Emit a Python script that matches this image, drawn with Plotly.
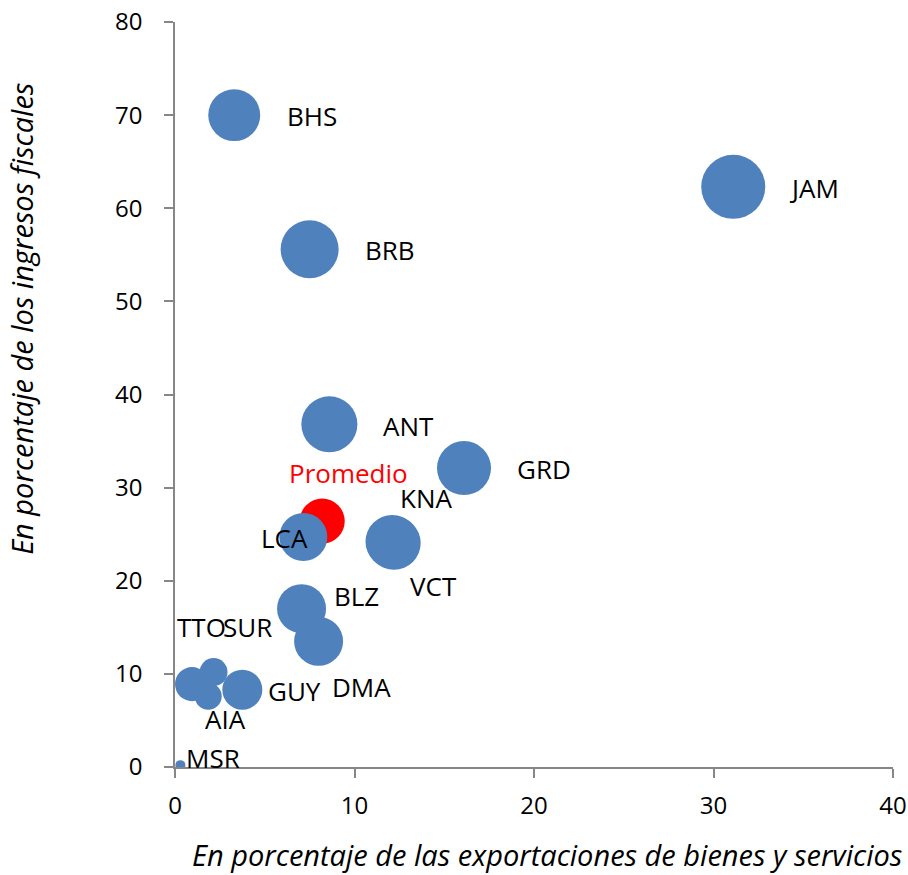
import plotly.graph_objects as go

# ---- data ----
countries = ["BHS", "JAM", "BRB", "ANT", "GRD", "KNA", "VCT", "LCA", "BLZ", "DMA",
             "TTO", "SUR", "AIA", "GUY", "MSR"]
exports_pct = [3.3, 31.1, 7.5, 8.6, 16.1, 12.1, 12.2, 7.15, 7.05, 8.0,
               0.95, 2.15, 1.85, 3.75, 0.3]
revenue_pct = [70.0, 62.3, 55.6, 36.8, 32.1, 24.2, 24.05, 24.7, 17.0, 13.5,
               8.9, 10.2, 7.6, 8.3, 0.2]
bubble_val = [27.0, 41.0, 33.6, 31.4, 29.2, 28.5, 28.5, 23.0, 24.0, 24.0,
              11.6, 7.8, 7.3, 16.0, 1.0]

avg_label = ["Promedio"]
avg_exports = [8.2]
avg_revenue = [26.4]
avg_bubble = [20.3]

x_ticks = [0, 10, 20, 30, 40]
y_ticks = [0, 10, 20, 30, 40, 50, 60, 70, 80]

# ---- label offsets (pixels: dx from bubble centre to label's left edge, dy upward) ----
label_offsets = {
    "BHS": (51, -1), "JAM": (54, -1), "BRB": (53, -1), "ANT": (52, -2),
    "GRD": (51, -1), "KNA": (6, 44), "VCT": (14, -43), "LCA": (-44, -1),
    "BLZ": (30, 13), "DMA": (11, -46), "TTO": (-17, 57), "SUR": (7, 45),
    "AIA": (-5, -23), "GUY": (24, -1), "MSR": (4, 7),
}
avg_offset = (-35, 48)

FONT = "Open Sans"
BLUE = "#4F81BD"
AXIS = "#868686"
SREF = 0.02
LABEL_SIZE = 26
TICK_SIZE = 24
TITLE_SIZE = 29

fig = go.Figure()
fig.add_trace(go.Scatter(
    x=avg_exports, y=avg_revenue, mode="markers",
    marker=dict(size=avg_bubble, sizemode="area", sizeref=SREF, color="#FF0000",
                line=dict(width=0), opacity=1),
    hoverinfo="text", text=avg_label, showlegend=False))
fig.add_trace(go.Scatter(
    x=exports_pct, y=revenue_pct, mode="markers",
    marker=dict(size=bubble_val, sizemode="area", sizeref=SREF, color=BLUE,
                line=dict(width=0), opacity=1),
    hoverinfo="text", text=countries, showlegend=False))

for c, xv, yv in zip(countries, exports_pct, revenue_pct):
    dx, dy = label_offsets[c]
    fig.add_annotation(x=xv, y=yv, text=c, showarrow=False, xanchor="left",
                       yanchor="middle", xshift=dx, yshift=dy,
                       font=dict(family=FONT, size=LABEL_SIZE, color="black"))
fig.add_annotation(x=avg_exports[0], y=avg_revenue[0], text=avg_label[0],
                   showarrow=False, xanchor="left", yanchor="middle",
                   xshift=avg_offset[0], yshift=avg_offset[1],
                   font=dict(family=FONT, size=LABEL_SIZE, color="#FF0000"))

# axis titles
fig.add_annotation(xref="paper", yref="paper", x=1.0153, y=-0.1168,
                   xanchor="right", yanchor="middle", showarrow=False,
                   text="<i>En porcentaje de las exportaciones de bienes y servicios</i>",
                   font=dict(family=FONT, size=TITLE_SIZE, color="black"))
fig.add_annotation(xref="paper", yref="paper", x=-0.214, y=0.602,
                   xanchor="center", yanchor="middle", showarrow=False, textangle=-90,
                   text="<i>En porcentaje de los ingresos fiscales</i>",
                   font=dict(family=FONT, size=TITLE_SIZE, color="black"))

fig.update_layout(
    width=908, height=875,
    margin=dict(l=175, r=15, t=22, b=108),
    paper_bgcolor="white", plot_bgcolor="white",
    xaxis=dict(range=[0, 40], tickvals=x_ticks, showgrid=False, zeroline=False,
               showline=True, linecolor=AXIS, linewidth=1.5, automargin=False,
               ticks="outside", ticklen=9, tickcolor=AXIS, tickwidth=1.5,
               tickfont=dict(family=FONT, size=TICK_SIZE, color="black"),
               ticklabelstandoff=7, ticklabeloverflow="allow"),
    yaxis=dict(range=[0, 80], tickvals=y_ticks, showgrid=False, zeroline=False,
               showline=True, linecolor=AXIS, linewidth=1.5, automargin=False,
               ticks="outside", ticklen=9, tickcolor=AXIS, tickwidth=1.5,
               tickfont=dict(family=FONT, size=TICK_SIZE, color="black"),
               ticklabelstandoff=17, ticklabeloverflow="allow"),
)

# remove the page's default body margin so the 908x875 figure fills the window
fig.write_html("out.html", config={"displayModeBar": False},
               post_script="document.body.style.margin='0';document.body.style.overflow='hidden';")
